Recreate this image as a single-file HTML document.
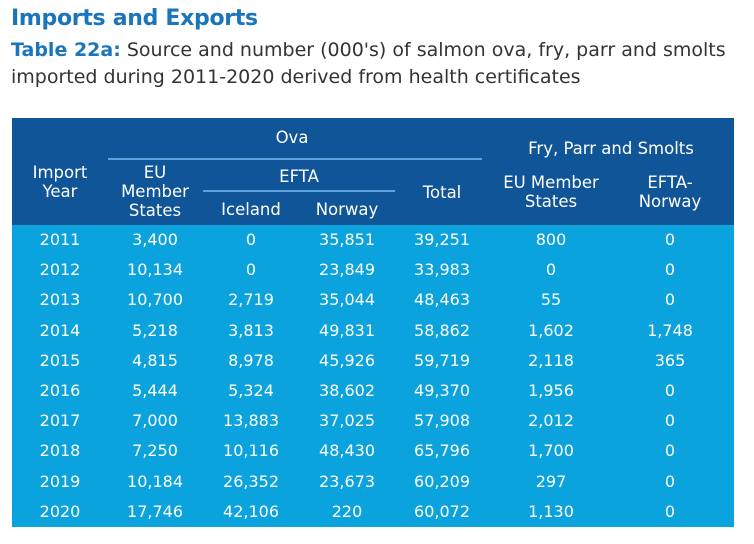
<!DOCTYPE html>
<html><head><meta charset="utf-8"><style>
body{margin:0;width:754px;height:544px;background:#fff;font-family:"DejaVu Sans","Liberation Sans",sans-serif;position:relative;overflow:hidden}
.a{position:absolute;white-space:nowrap}
.c{position:absolute;transform:translateX(-50%);text-align:center;color:#fff;white-space:nowrap;line-height:19px}
</style></head><body>
<div class="a" style="left:11px;top:6px;font-size:22px;font-weight:bold;color:#1b75bb;letter-spacing:-0.3px">Imports and Exports</div>
<div class="a" style="left:11px;top:37px;font-size:19px;line-height:27px;color:#333"><b style="color:#1b75bb">Table 22a:</b> Source and number (000's) of salmon ova, fry, parr and smolts<br>imported during 2011-2020 derived from health certificates</div>
<div class="a" style="left:12px;top:118px;width:722px;height:107px;background:#0f5597"></div>
<div class="a" style="left:12px;top:225px;width:722px;height:302px;background:#0ba3dd"></div>
<div class="a" style="left:108px;top:158px;width:374px;height:2px;background:#5aa3dc"></div>
<div class="a" style="left:203px;top:190px;width:192px;height:2px;background:#5aa3dc"></div>
<div id="h"></div>
<div id="rows"></div>
<script>
const years=["2011","2012","2013","2014","2015","2016","2017","2018","2019","2020"];
const ovaEU=["3,400","10,134","10,700","5,218","4,815","5,444","7,000","7,250","10,184","17,746"];
const ovaIceland=["0","0","2,719","3,813","8,978","5,324","13,883","10,116","26,352","42,106"];
const ovaNorway=["35,851","23,849","35,044","49,831","45,926","38,602","37,025","48,430","23,673","220"];
const ovaTotal=["39,251","33,983","48,463","58,862","59,719","49,370","57,908","65,796","60,209","60,072"];
const fpsEU=["800","0","55","1,602","2,118","1,956","2,012","1,700","297","1,130"];
const fpsNorway=["0","0","0","1,748","365","0","0","0","0","0"];
const cols=[60,155,251,347,442,551,670];
const data=[years,ovaEU,ovaIceland,ovaNorway,ovaTotal,fpsEU,fpsNorway];
const hdr=[["Ova",292,128],["Import<br>Year",60,163],["EU<br>Member<br>States",155,163],["EFTA",299,167],["Iceland",251,200],["Norway",347,200],["Total",442,183],["Fry, Parr and Smolts",611,139],["EU Member<br>States",551,173],["EFTA-<br>Norway",670,173]];
const h=document.getElementById('h');
hdr.forEach(x=>{const d=document.createElement('div');d.className='c';d.style.left=x[1]+'px';d.style.top=x[2]+'px';d.style.fontSize='16.5px';d.innerHTML=x[0];


h.appendChild(d);});
const r=document.getElementById('rows');
years.forEach((y,i)=>{data.forEach((arr,j)=>{const d=document.createElement('div');d.className='c';d.style.left=cols[j]+'px';d.style.top=(230+i*30.2)+'px';d.style.fontSize='16px';d.textContent=arr[i];


r.appendChild(d);});});
</script>
</body></html>
